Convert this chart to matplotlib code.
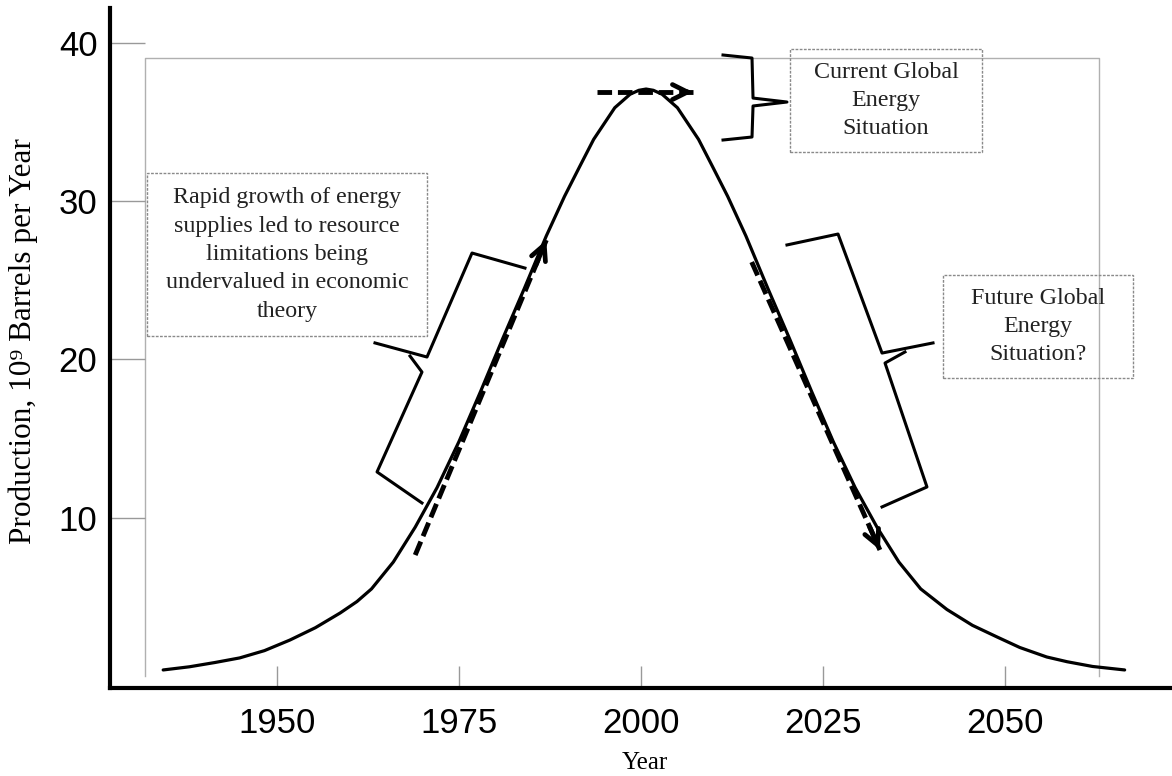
import matplotlib
matplotlib.use('Agg')
import matplotlib.pyplot as plt
from matplotlib.patches import Rectangle

# Production curve (year, 10^9 barrels per year)
years = [1934.4, 1938.0, 1941.5, 1944.9, 1948.3, 1951.8, 1955.3, 1958.7, 1961.0,
         1963.0, 1966.0, 1969.0, 1972.0, 1975.0, 1978.0, 1981.0, 1984.0, 1987.0,
         1989.5, 1991.6, 1993.5, 1996.4, 1998.5, 1999.7, 2000.7, 2001.7, 2002.9,
         2005.0, 2007.9, 2009.8, 2011.9, 2014.4, 2017.4, 2020.4, 2023.4, 2026.4,
         2029.4, 2032.4, 2035.4, 2038.4, 2042.0, 2045.5, 2048.9, 2052.0, 2055.7,
         2058.5, 2062.0, 2066.4]
production = [0.38, 0.58, 0.85, 1.14, 1.6, 2.27, 3.05, 3.98, 4.7,
              5.5, 7.2, 9.4, 11.9, 14.8, 18.0, 21.3, 24.5, 27.8,
              30.3, 32.2, 33.9, 35.9, 36.75, 37.0, 37.08, 37.0, 36.75,
              35.9, 33.9, 32.2, 30.3, 27.8, 24.5, 21.3, 18.0, 14.8,
              11.9, 9.4, 7.2, 5.5, 4.2, 3.2, 2.46, 1.8, 1.2,
              0.9, 0.6, 0.38]

x_ticks = [1950, 1975, 2000, 2025, 2050]
y_ticks = [10, 20, 30, 40]

# dashed arrows (tail, head)
arrow_up = [(1969.0, 7.64), (1987.0, 27.54)]
arrow_flat = [(1994.0, 36.89), (2007.1, 36.89)]
arrow_down = [(2015.2, 26.15), (2032.8, 7.96)]

# braces as polylines
brace_left = [[(1984.07, 25.77), (1976.80, 26.72), (1970.62, 20.15), (1963.48, 21.04)],
              [(1968.29, 20.21), (1969.93, 19.20), (1963.76, 12.89), (1969.93, 10.93)]]
brace_top = [[(2011.26, 39.23), (2015.24, 39.04), (2015.38, 36.51), (2020.04, 36.26),
              (2015.38, 36.01), (2015.24, 34.05), (2011.26, 33.86)]]
brace_right = [[(2020.04, 27.23), (2027.05, 27.92), (2033.09, 20.40), (2040.09, 21.04)],
               [(2036.24, 20.47), (2033.50, 19.77), (2039.26, 11.94), (2033.09, 10.68)]]

# text boxes: (x0, x1, y0, y1, text)
boxes = [
    (1932.18, 1970.62, 21.48, 31.78,
     "Rapid growth of energy\nsupplies led to resource\nlimitations being\nundervalued in economic\ntheory"),
    (2020.46, 2046.82, 33.10, 39.61, "Current Global\nEnergy\nSituation"),
    (2041.46, 2067.55, 18.82, 25.33, "Future Global\nEnergy\nSituation?"),
]

serif = 'Liberation Serif'
sans = 'Liberation Sans'

fig = plt.figure(figsize=(11.72, 7.76), dpi=100)
ax = fig.add_axes([110 / 1172, 88 / 776, 1062 / 1172, 680 / 776])
ax.set_xlim(1927.1, 2072.9)
ax.set_ylim(-0.76, 42.2)

# inner light frame (left, top, right)
ax.plot([1931.9, 1931.9, 2062.9, 2062.9], [0, 39.04, 39.04, 0], color='#b0b0b0',
        lw=1.0, zorder=0)

for side in ['top', 'right']:
    ax.spines[side].set_visible(False)
for side in ['left', 'bottom']:
    ax.spines[side].set_linewidth(3)
    ax.spines[side].set_color('black')

ax.set_xticks(x_ticks)
ax.set_yticks(y_ticks)
ax.tick_params(axis='x', direction='in', length=16, width=1, color='#999999',
               labelsize=25, pad=14)
ax.tick_params(axis='y', direction='in', length=25, width=1, color='#999999',
               labelsize=25, pad=9)
for lab in ax.get_xticklabels() + ax.get_yticklabels():
    lab.set_fontfamily(sans)

ax.set_xlabel('Year', fontfamily=serif, fontsize=18)
ax.xaxis.set_label_coords(0.504, -0.094)
ax.set_ylabel('Production, 10⁹ Barrels per Year', fontfamily=[serif, 'DejaVu Serif'],
              fontsize=22.5)
ax.yaxis.set_label_coords(-0.068, 0.51)

ax.plot(years, production, color='black', lw=2.3, solid_capstyle='round',
        solid_joinstyle='round')

for tail, head in [arrow_up, arrow_flat, arrow_down]:
    ax.plot([tail[0], head[0]], [tail[1], head[1]], color='black', lw=3.5,
            linestyle=(0, (3, 1.2)))
    near = (head[0] - 0.08 * (head[0] - tail[0]), head[1] - 0.08 * (head[1] - tail[1]))
    ax.annotate('', xy=head, xytext=near,
                arrowprops=dict(arrowstyle='->', lw=3.4, color='black',
                                mutation_scale=27, shrinkA=0, shrinkB=0))

for brace in [brace_left, brace_top, brace_right]:
    for seg in brace:
        ax.plot([p[0] for p in seg], [p[1] for p in seg], color='black', lw=2.2,
                solid_joinstyle='round')

for x0, x1, y0, y1, txt in boxes:
    ax.add_patch(Rectangle((x0, y0), x1 - x0, y1 - y0, fill=False,
                           edgecolor='#8a8a8a', lw=1.0, linestyle=(0, (2, 1))))
    ax.text((x0 + x1) / 2, (y0 + y1) / 2, txt, ha='center', va='center',
            multialignment='center', fontfamily=serif, fontsize=17.3,
            linespacing=1.46, color='#222222')

plt.savefig('out.png', dpi=100)
plt.close()
